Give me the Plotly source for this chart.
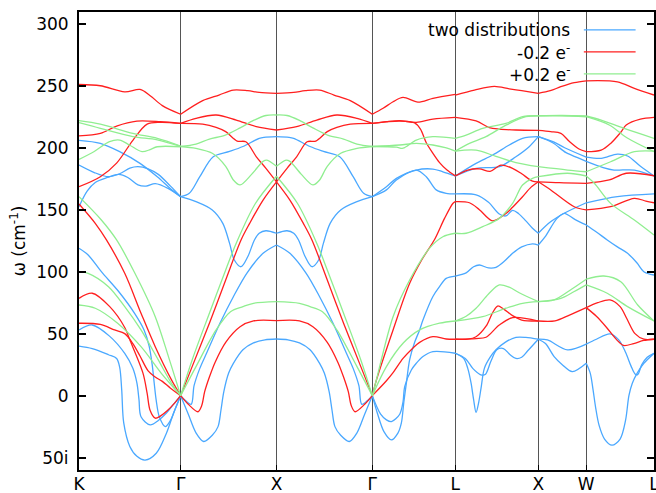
import plotly.graph_objects as go

# High-symmetry path of the fcc Brillouin zone (distance in units of 2*pi/a)
kpoint_labels = ["K", "Γ", "X", "Γ", "L", "X", "W", "L"]
kpoint_dist = [0.0, 1.0607, 2.0607, 3.0607, 3.9268, 4.7928, 5.2928, 6.0]

freq_ticks = [-50, 0, 50, 100, 150, 200, 250, 300]
freq_tick_text = ["50i", "0", "50", "100", "150", "200", "250", "300"]

series_names = ["two distributions", "-0.2 e<sup>-</sup>", "+0.2 e<sup>-</sup>"]
series_colors = ["#4aa8ff", "#ff1f1f", "#90ee90"]

# Each branch: (fractions along the segment, frequency in cm^-1; negative = imaginary)
# ---------------- two distributions ----------------
BLUE_KG = [
    ([0, .21, .40, .60, .77, .90, 1], [205.9, 203.5, 196.8, 187.4, 176.6, 167, 160.5]),
    ([0, .15, .29, .40, .50, .58, .68, .78, .90, 1], [186, 180, 176.6, 179, 183.5, 184.7, 183, 178.5, 169, 160.5]),
    ([0, .08, .16, .28, .39, .48, .58, .66, .75, .88, 1], [152.4, 165, 172, 176, 178.5, 176, 170, 169, 171, 167, 160.5]),
    ([0, .09, .22, .39, .55, .64, .69, .72, .74, .76, .79, .85, .90, .95, 1],
     [118.9, 113.5, 100, 84, 66, 53, 40, 25, 10, -4, -17, -25, -20, -10, 0]),
    ([0, .13, .30, .45, .53, .57, .59, .61, .70, .78, .86, .93, 1],
     [53, 57, 48, 34, 22, 10, -3, -17, -23.6, -20, -14, -7, 0]),
    ([0, .13, .29, .37, .40, .42, .44, .50, .57, .65, .76, .86, .93, 1],
     [40, 38, 33, 30, 23, 5, -22, -41, -49, -52, -46.5, -30.3, -14.2, 0]),
]
BLUE_GX = [
    ([0, .09, .20, .34, .51, .65, .82, .87, 1], [160.5, 163.2, 176.6, 192.7, 197, 201, 207.6, 208.4, 208.9]),
    ([0, .16, .33, .44, .51, .56, .63, .70, .77, .82, .89, 1],
     [160.5, 156.5, 149.8, 139, 123, 109.4, 104, 112, 125.6, 131, 133, 131]),
    ([0, .05, .11, .14, .20, .27, .41, .55, .69, .86, 1], [0, -4, -7, 8, 22, 34.2, 58.4, 79.8, 98.7, 114.8, 121.5]),
    ([0, .08, .16, .24, .33, .39, .42, .45, .50, .55, .65, .76, .88, 1],
     [0, -15, -30, -37, -32, -25, -12, 3, 18, 26, 37, 42.5, 45, 45.7]),
]
BLUE_XG = [
    ([0, .13, .18, .35, .49, .66, .80, .91, 1], [208.9, 208.4, 207.6, 201, 197, 192.7, 176.6, 163.2, 160.5]),
    ([0, .11, .18, .23, .30, .37, .44, .49, .56, .67, .84, 1],
     [131, 133, 131, 125.6, 112, 104, 109.4, 123, 139, 149.8, 156.5, 160.5]),
    ([0, .14, .31, .45, .59, .73, .80, .86, .89, .95, 1], [121.5, 114.8, 98.7, 79.8, 58.4, 34.2, 22, 8, -7, -4, 0]),
    ([0, .12, .24, .35, .45, .50, .55, .58, .61, .67, .76, .84, .92, 1],
     [45.7, 45, 42.5, 37, 26, 18, 3, -12, -25, -32, -37, -30, -15, 0]),
]
BLUE_GL = [
    ([0, .17, .29, .53, .73, .85, 1], [160.5, 168.5, 175.3, 182, 182.8, 180.6, 177.2]),
    ([0, .17, .29, .53, .65, .77, .89, 1], [160.5, 166, 174, 182, 176.6, 166, 163.2, 162.7]),
    ([0, .06, .14, .23, .31, .35, .38, .41, .45, .51, .57, .61, .73, .81, .89, 1],
     [0, -14, -29, -35.7, -30, -22, -5, 10, 29, 43, 53, 61, 80, 88, 94.6, 96.5]),
    ([0, .10, .17, .23, .33, .37, .39, .47, .53, .61, .73, 1],
     [0, -15, -19.6, -21, -15, -5, 7.3, 20.7, 26.1, 31.5, 35.5, 34.2]),
]
BLUE_LX = [
    ([0, .25, .45, .65, .81, 1], [177.2, 187.4, 194.1, 202.2, 207.6, 208.9]),
    ([0, .25, .53, .73, .89, 1], [177.2, 183.4, 184.7, 192.7, 200.8, 208.9]),
    ([0, .25, .40, .53, .61, .69, .76, .85, .93, 1], [162.7, 162, 156, 146.5, 145, 149.5, 147, 141, 135, 131]),
    ([0, .13, .22, .29, .40, .49, .60, .69, .80, .93, 1],
     [96.5, 99, 104, 105.4, 103, 103.5, 109, 114.8, 120, 122.5, 121.5]),
    ([0, .10, .15, .19, .22, .25, .28, .31, .35, .42, .49, .60, .73, .85, 1],
     [34.2, 30, 22, 10, -3, -13.5, -6, 6, 22, 31, 37, 43, 47, 47, 45.5]),
    ([0, .12, .21, .30, .36, .43, .50, .58, .66, .73, .80, .87, 1],
     [34.2, 30, 22, 17, 17, 28, 37, 38, 33, 30, 31, 36, 45.5]),
]
BLUE_XW = [
    ([0, .33, .55, 1], [208.9, 204.5, 200, 192.4]),
    ([0, .30, .58, .82, 1], [208.9, 204, 196, 192, 189]),
    ([0, .25, .54, 1], [131, 140, 147.1, 155.6]),
    ([0, .14, .39, .54, .77, 1], [121.5, 128, 143, 147.1, 142, 137.7]),
    ([0, .19, .61, 1], [45.5, 44.9, 36.9, 41.5]),
    ([0, .15, .33, .50, .71, 1], [45.5, 42, 31.5, 25, 19.4, 26.1]),
]
BLUE_WL = [
    ([0, .22, .46, .61, .80, 1], [192.4, 191.4, 194.9, 193.3, 185, 177.2]),
    ([0, .25, .41, .71, 1], [189, 184, 182, 182, 177.2]),
    ([0, .46, 1], [155.6, 160.5, 162.7]),
    ([0, .15, .31, .46, .61, .75, .85, 1], [137.7, 132, 125.6, 120, 114.8, 107, 100, 97.3]),
    ([0, .15, .35, .48, .58, .66, .72, .76, .82, .90, 1], [41.5, 45.5, 49.8, 45, 35, 24, 17.5, 17, 25, 31, 34.2]),
    ([0, .06, .10, .14, .19, .27, .38, .50, .58, .63, .68, .75, .85, 1],
     [26.1, 18, 5, -10, -24, -35, -40, -35, -20, 0, 10, 18, 26, 34.2]),
]

# ---------------- -0.2 e ----------------
RED_KG = [
    ([0, .21, .45, .60, .70, .82, 1], [251, 250, 245, 247, 242, 234, 227]),
    ([0, .21, .37, .57, .80, 1], [209.5, 211.5, 217.5, 221.5, 221, 219.6]),
    ([0, .21, .37, .53, .67, .80, 1], [168.5, 176.6, 187.6, 206, 219, 220.5, 219.6]),
    ([0, .16, .27, .45, .61, .75, .91, 1], [154.6, 139, 125.6, 98.7, 66.5, 39.5, 12.7, 0]),
    ([0, .13, .30, .45, .50, .63, .67, .70, .75, .80, .87, .94, 1],
     [78.5, 82.6, 72, 55, 45, 18, 2, -12, -18.2, -16.5, -12, -6, 0]),
    ([0, .21, .35, .45, .53, .60, .68, .75, .82, .90, 1], [58.4, 57.5, 53, 50, 42, 32, 20, 15, 11.5, 6, 0]),
]
RED_GX = [
    ([0, .23, .40, .55, .70, .82, 1], [227, 238, 242.5, 246.5, 246, 244.7, 243.9]),
    ([0, .16, .37, .58, .79, 1], [219.6, 223.7, 226.4, 222.3, 217, 214.3]),
    ([0, .23, .37, .47, .59, .68, .79, .89, 1], [219.6, 219, 216.4, 213, 205.4, 204.8, 192.7, 183.4, 172.5]),
    ([0, .12, .30, .47, .63, .72, .86, 1], [0, 23.4, 58.4, 93.3, 125.6, 139, 157.8, 172.5]),
    ([0, .08, .18, .22, .25, .30, .36, .47, .62, .76, 1], [0, -7, -13, -8, 3, 15, 27, 43, 55.6, 60.3, 60.5]),
]
RED_XG = [
    ([0, .18, .30, .45, .60, .77, 1], [243.9, 244.7, 246, 246.5, 242.5, 238, 227]),
    ([0, .21, .42, .63, .84, 1], [214.3, 217, 222.3, 226.4, 223.7, 219.6]),
    ([0, .11, .21, .32, .41, .53, .63, .77, 1], [172.5, 183.4, 192.7, 204.8, 205.4, 213, 216.4, 219, 219.6]),
    ([0, .14, .28, .37, .53, .70, .88, 1], [172.5, 157.8, 139, 125.6, 93.3, 58.4, 23.4, 0]),
    ([0, .24, .38, .53, .64, .70, .75, .78, .82, .92, 1], [60.5, 60.3, 55.6, 43, 27, 15, 3, -8, -13, -7, 0]),
]
RED_GL = [
    ([0, .13, .25, .37, .55, .73, 1], [227, 231.8, 237.1, 240.6, 236.8, 239.8, 243]),
    ([0, .17, .33, .53, .73, 1], [219.6, 221, 221.8, 220.5, 223.1, 224.5]),
    ([0, .33, .51, .58, .65, .73, .81, .90, 1], [219.6, 221.5, 220, 215, 204, 195.5, 188, 182, 177.3]),
    ([0, .05, .25, .45, .60, .75, .87, .97, 1], [0, 12.7, 53, 90.6, 110, 126, 143, 155, 156.5]),
    ([0, .17, .25, .37, .49, .57, .73, .89, 1], [0, 12, 18.5, 30, 38.5, 43, 47.6, 45.7, 45.5]),
]
RED_LX = [
    ([0, .23, .47, .65, .80, 1], [242.5, 246.5, 249.5, 247.5, 246, 243.9]),
    ([0, .25, .41, .53, .73, 1], [224.5, 221.6, 216.2, 215, 214.3, 214]),
    ([0, .15, .29, .42, .55, .70, .80, .93, 1], [177.3, 182, 183, 181, 186, 183, 179, 173, 172.5]),
    ([0, .17, .29, .45, .61, .69, .81, .91, 1], [156.5, 155.6, 150, 141, 147, 152, 160.5, 168, 172.5]),
    ([0, .15, .25, .37, .45, .51, .58, .69, .80, 1], [45.5, 45.5, 47.5, 56, 67, 72.3, 70, 64.5, 61, 60.2]),
    ([0, .25, .37, .53, .69, 1], [45.5, 46, 47.1, 57, 62.9, 60.2]),
]
RED_XW = [
    ([0, .25, .47, .75, 1], [243.9, 246, 249.2, 252.5, 254]),
    ([0, .26, .47, .65, .85, 1], [214, 213, 211.6, 205, 199, 196.8]),
    ([0, .44, 1], [172.5, 171.8, 171.3]),
    ([0, .26, .75, 1], [172.5, 165.9, 152.4, 149.8]),
    ([0, .35, .65, 1], [60.2, 60.3, 65, 71]),
]
RED_WL = [
    ([0, .46, .71, 1], [254, 253.2, 247.9, 242.5]),
    ([0, .22, .36, .51, .59, .80, 1], [196.8, 198.1, 203.5, 212.5, 218.3, 223, 224.5]),
    ([0, .34, .59, 1], [171.3, 174, 179.4, 177.4]),
    ([0, .36, .71, .88, 1], [149.8, 152.4, 159.2, 157, 155.6]),
    ([0, .17, .35, .50, .60, .72, .85, 1], [71, 75, 77.2, 71.8, 62, 50, 45.5, 45.5]),
    ([0, .15, .30, .45, .55, .70, .85, 1], [71, 64, 55, 45, 40.5, 42, 44.5, 45.5]),
]

# ---------------- +0.2 e ----------------
GREEN_KG = [
    ([0, .21, .53, .77, 1], [221.8, 219, 211.6, 207.6, 201.4]),
    ([0, .21, .53, .77, 1], [220.2, 215.6, 209, 206.4, 201]),
    ([0, .15, .30, .40, .50, .62, .70, .77, 1], [190.6, 197, 204.9, 206.2, 202, 196.8, 198.5, 200.8, 200.8]),
    ([0, .22, .37, .55, .75, .88, 1], [160.5, 141.7, 125.6, 98.7, 63.7, 31.5, 0]),
    ([0, .09, .29, .45, .61, .78, .91, 1], [100, 98.7, 87.9, 71.8, 53, 28.8, 10, 0]),
    ([0, .16, .38, .61, .81, 1], [73.1, 70.5, 58.4, 39.5, 18, 0]),
]
GREEN_GX = [
    ([0, .16, .30, .46, .62, .76, .89, 1], [201, 203, 207, 210, 216, 222, 226, 226.4]),
    ([0, .16, .33, .47, .55, .62, .74, .86, .90, 1], [201, 199.5, 195.5, 185, 174, 170, 178.5, 189, 190, 185]),
    ([0, .12, .30, .47, .58, .78, 1], [0, 28.8, 66.5, 101.4, 123, 155, 177]),
    ([0, .16, .37, .52, .65, .76, 1], [0, 23.4, 53, 67.7, 71.8, 74.5, 75.8]),
]
GREEN_XG = [
    ([0, .11, .24, .38, .54, .70, .84, 1], [226.4, 226, 222, 216, 210, 207, 203, 201]),
    ([0, .10, .14, .26, .38, .45, .53, .67, .84, 1], [185, 190, 189, 178.5, 170, 174, 185, 195.5, 199.5, 201]),
    ([0, .22, .42, .53, .70, .88, 1], [177, 155, 123, 101.4, 66.5, 28.8, 0]),
    ([0, .24, .35, .48, .63, .84, 1], [75.8, 74.5, 71.8, 67.7, 53, 23.4, 0]),
]
GREEN_GL = [
    ([0, .29, .37, .53, .73, 1], [201, 200.5, 199.6, 206.2, 208.9, 207.6]),
    ([0, .33, .53, .73, .88, 1], [201, 202.2, 203.5, 202.2, 200, 197.3]),
    ([0, .05, .25, .45, .69, .85, 1], [0, 13, 63.7, 93.3, 119, 128.2, 131]),
    ([0, .17, .37, .57, .81, 1], [0, 23.4, 42.2, 53, 58.4, 60.2]),
]
GREEN_LX = [
    ([0, .13, .33, .61, .81, 1], [207.6, 210.2, 215.6, 219.6, 225, 225.8]),
    ([0, .17, .37, .61, .85, 1], [197.3, 203.5, 208.9, 218.2, 225, 225.8]),
    ([0, .25, .49, .73, 1], [197.3, 198, 193, 188, 184.7]),
    ([0, .13, .33, .53, .69, .81, .93, 1], [131, 131, 136.3, 143, 155.1, 169.9, 175.3, 176.6]),
    ([0, .13, .25, .40, .53, .65, .77, 1], [60.2, 64, 70.5, 82, 89.3, 87.5, 83, 75.8]),
    ([0, .33, .61, .81, 1], [60.2, 63.7, 70.5, 74.5, 75.8]),
]
GREEN_XW = [
    ([0, .5, 1], [225.8, 226, 225.6]),
    ([0, .5, 1], [225.8, 225.8, 225]),
    ([0, .61, 1], [184.7, 182, 180.6]),
    ([0, .61, 1], [176.6, 179.4, 177.2]),
    ([0, .33, .70, 1], [75.8, 77.2, 86, 93.9]),
    ([0, .47, .75, 1], [75.8, 78.5, 84, 89.3]),
]
GREEN_WL = [
    ([0, .22, .56, 1], [225.6, 222.3, 215.6, 207.6]),
    ([0, .34, .60, 1], [225, 218.3, 208, 196.8]),
    ([0, .36, .71, 1], [180.6, 188.7, 196.8, 197.3]),
    ([0, .12, .36, .71, 1], [177.2, 171.3, 155.1, 141.7, 129.6]),
    ([0, .26, .51, .76, 1], [93.9, 96.5, 91.9, 73.1, 60.2]),
    ([0, .31, .61, 1], [89.3, 82.6, 71.8, 60.2]),
]

blue_segments = [BLUE_KG, BLUE_GX, BLUE_XG, BLUE_GL, BLUE_LX, BLUE_XW, BLUE_WL]
red_segments = [RED_KG, RED_GX, RED_XG, RED_GL, RED_LX, RED_XW, RED_WL]
green_segments = [GREEN_KG, GREEN_GX, GREEN_XG, GREEN_GL, GREEN_LX, GREEN_XW, GREEN_WL]


def path_xy(segments):
    """Map per-segment fractions onto the path distance, one gap between branches."""
    xs, ys = [], []
    for i, branches in enumerate(segments):
        a, b = kpoint_dist[i], kpoint_dist[i + 1]
        for frac, freq in branches:
            xs += [a + f * (b - a) for f in frac] + [None]
            ys += list(freq) + [None]
    return xs, ys


FONT = "DejaVu Sans, Verdana, sans-serif"
fig = go.Figure()

for name, color, segs in zip(series_names, series_colors,
                             [blue_segments, red_segments, green_segments]):
    x, y = path_xy(segs)
    fig.add_trace(go.Scatter(
        x=x, y=y, mode="lines", name=name, showlegend=False,
        line=dict(color=color, width=1.3, shape="spline", smoothing=0.9),
        connectgaps=False,
    ))

# Key in the upper right: label text to the left of a short line sample
legend_rows_y = [0.961, 0.913, 0.865]
for name, color, yy in zip(series_names, series_colors, legend_rows_y):
    fig.add_annotation(
        x=0.858, y=yy, xref="paper", yref="paper", text=name, showarrow=False,
        xanchor="right", yanchor="middle", font=dict(family=FONT, size=17, color="black"),
    )
    fig.add_shape(
        type="line", xref="paper", yref="paper", x0=0.878, x1=0.968, y0=yy, y1=yy,
        line=dict(color=color, width=1.3),
    )

fig.update_xaxes(
    range=[kpoint_dist[0], kpoint_dist[-1]],
    tickmode="array", tickvals=kpoint_dist, ticktext=kpoint_labels,
    showgrid=True, gridcolor="rgb(85,85,85)", gridwidth=1.3,
    zeroline=False, showline=True, linecolor="black", linewidth=2, mirror=True,
    ticks="inside", ticklen=5, tickcolor="black",
    tickfont=dict(family=FONT, size=17, color="black"),
    ticklabeloverflow="allow", automargin=False, ticklabelstandoff=-2,
)
fig.update_yaxes(
    range=[-60, 309.5],
    tickmode="array", tickvals=freq_ticks, ticktext=freq_tick_text,
    showgrid=False, zeroline=False, showline=True, linecolor="black", linewidth=2,
    mirror="ticks", ticks="inside", ticklen=7, tickcolor="black", tickwidth=1.5,
    tickfont=dict(family=FONT, size=17, color="black"),
    ticklabelstandoff=5, automargin=False,
    title=dict(text="ω (cm<sup>-1</sup>)", font=dict(family=FONT, size=17, color="black"), standoff=6),
)
fig.update_layout(
    width=656, height=493,
    margin=dict(l=79, r=2, t=12, b=23, autoexpand=False),
    paper_bgcolor="white", plot_bgcolor="white",
)

fig.write_html("out.html")
